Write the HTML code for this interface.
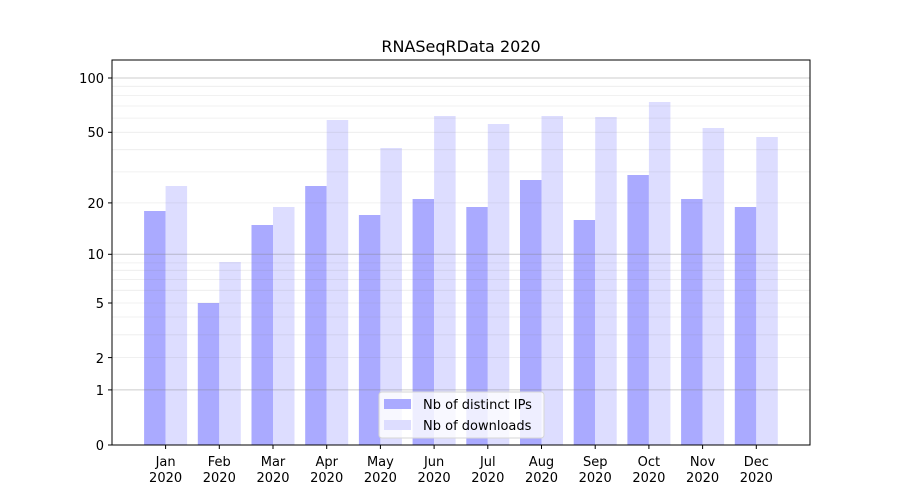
<!DOCTYPE html>
<html><head><meta charset="utf-8"><style>body{margin:0;background:#fff}svg{display:block;font-family:"DejaVu Sans","Liberation Sans",sans-serif}</style></head><body>
<svg width="900" height="500" viewBox="0 0 900 500" xmlns="http://www.w3.org/2000/svg">
<rect width="900" height="500" fill="#fff"/>
<text x="461" y="52" font-size="16" text-anchor="middle" fill="#000">RNASeqRData 2020</text>
<g fill="#aaaaff">
<rect x="144.1" y="211" width="21.5" height="234"/>
<rect x="197.8" y="303" width="21.5" height="142"/>
<rect x="251.5" y="225" width="21.5" height="220"/>
<rect x="305.2" y="186" width="21.5" height="259"/>
<rect x="358.9" y="215" width="21.5" height="230"/>
<rect x="412.6" y="199" width="21.5" height="246"/>
<rect x="466.3" y="207" width="21.5" height="238"/>
<rect x="520" y="180" width="21.5" height="265"/>
<rect x="573.7" y="220" width="21.5" height="225"/>
<rect x="627.4" y="175" width="21.5" height="270"/>
<rect x="681.1" y="199" width="21.5" height="246"/>
<rect x="734.8" y="207" width="21.5" height="238"/>
</g>
<g fill="#ddddff">
<rect x="165.6" y="186" width="21.5" height="259"/>
<rect x="219.3" y="262" width="21.5" height="183"/>
<rect x="273" y="207" width="21.5" height="238"/>
<rect x="326.7" y="120" width="21.5" height="325"/>
<rect x="380.4" y="148" width="21.5" height="297"/>
<rect x="434.1" y="116" width="21.5" height="329"/>
<rect x="487.8" y="124" width="21.5" height="321"/>
<rect x="541.5" y="116" width="21.5" height="329"/>
<rect x="595.2" y="117" width="21.5" height="328"/>
<rect x="648.9" y="102" width="21.5" height="343"/>
<rect x="702.6" y="128" width="21.5" height="317"/>
<rect x="756.3" y="137" width="21.5" height="308"/>
</g>
<g stroke="#808080" stroke-opacity="0.15" stroke-width="0.8">
<line x1="112" x2="810" y1="357.6" y2="357.6"/><line x1="112" x2="810" y1="334.8" y2="334.8"/><line x1="112" x2="810" y1="317" y2="317"/><line x1="112" x2="810" y1="303" y2="303"/><line x1="112" x2="810" y1="290.3" y2="290.3"/><line x1="112" x2="810" y1="279.6" y2="279.6"/><line x1="112" x2="810" y1="270.3" y2="270.3"/><line x1="112" x2="810" y1="262.9" y2="262.9"/>
<line x1="112" x2="810" y1="202.9" y2="202.9"/><line x1="112" x2="810" y1="171.9" y2="171.9"/><line x1="112" x2="810" y1="149.7" y2="149.7"/><line x1="112" x2="810" y1="132.3" y2="132.3"/><line x1="112" x2="810" y1="118.1" y2="118.1"/><line x1="112" x2="810" y1="106" y2="106"/><line x1="112" x2="810" y1="95.5" y2="95.5"/><line x1="112" x2="810" y1="86.3" y2="86.3"/>
</g>
<g stroke="#808080" stroke-opacity="0.4" stroke-width="1">
<line x1="112" x2="810" y1="389.9" y2="389.9"/><line x1="112" x2="810" y1="254.3" y2="254.3"/><line x1="112" x2="810" y1="78" y2="78"/>
</g>
<rect x="112" y="60" width="698" height="385" fill="none" stroke="#000" stroke-width="1"/>
<g stroke="#000" stroke-width="1">
<line x1="108" x2="112" y1="445" y2="445"/><line x1="108" x2="112" y1="389.9" y2="389.9"/><line x1="108" x2="112" y1="357.6" y2="357.6"/><line x1="108" x2="112" y1="303" y2="303"/><line x1="108" x2="112" y1="254.3" y2="254.3"/><line x1="108" x2="112" y1="202.9" y2="202.9"/><line x1="108" x2="112" y1="132.3" y2="132.3"/><line x1="108" x2="112" y1="78" y2="78"/>
</g>
<g font-size="13" text-anchor="end" fill="#000">
<text x="104" y="450">0</text><text x="104" y="395">1</text><text x="104" y="363">2</text><text x="104" y="308">5</text><text x="104" y="259">10</text><text x="104" y="208">20</text><text x="104" y="137">50</text><text x="104" y="83">100</text>
</g>
<g stroke="#000" stroke-width="1">
<line x1="165.6" x2="165.6" y1="445" y2="449"/><line x1="219.3" x2="219.3" y1="445" y2="449"/><line x1="273" x2="273" y1="445" y2="449"/><line x1="326.7" x2="326.7" y1="445" y2="449"/><line x1="380.4" x2="380.4" y1="445" y2="449"/><line x1="434.1" x2="434.1" y1="445" y2="449"/><line x1="487.8" x2="487.8" y1="445" y2="449"/><line x1="541.5" x2="541.5" y1="445" y2="449"/><line x1="595.2" x2="595.2" y1="445" y2="449"/><line x1="648.9" x2="648.9" y1="445" y2="449"/><line x1="702.6" x2="702.6" y1="445" y2="449"/><line x1="756.3" x2="756.3" y1="445" y2="449"/>
</g>
<g font-size="13" text-anchor="middle" fill="#000">
<text x="165.6" y="466">Jan</text><text x="165.6" y="482">2020</text>
<text x="219.3" y="466">Feb</text><text x="219.3" y="482">2020</text>
<text x="273" y="466">Mar</text><text x="273" y="482">2020</text>
<text x="326.7" y="466">Apr</text><text x="326.7" y="482">2020</text>
<text x="380.4" y="466">May</text><text x="380.4" y="482">2020</text>
<text x="434.1" y="466">Jun</text><text x="434.1" y="482">2020</text>
<text x="487.8" y="466">Jul</text><text x="487.8" y="482">2020</text>
<text x="541.5" y="466">Aug</text><text x="541.5" y="482">2020</text>
<text x="595.2" y="466">Sep</text><text x="595.2" y="482">2020</text>
<text x="648.9" y="466">Oct</text><text x="648.9" y="482">2020</text>
<text x="702.6" y="466">Nov</text><text x="702.6" y="482">2020</text>
<text x="756.3" y="466">Dec</text><text x="756.3" y="482">2020</text>
</g>
<rect x="379" y="392" width="165" height="46" rx="3" fill="#fff" fill-opacity="0.8" stroke="#d6d6d6"/>
<rect x="384" y="399" width="27" height="10" fill="#aaaaff"/>
<rect x="384" y="420" width="27" height="10" fill="#ddddff"/>
<g font-size="13" fill="#000"><text x="423" y="409">Nb of distinct IPs</text><text x="423" y="430">Nb of downloads</text></g>
</svg>
</body></html>
